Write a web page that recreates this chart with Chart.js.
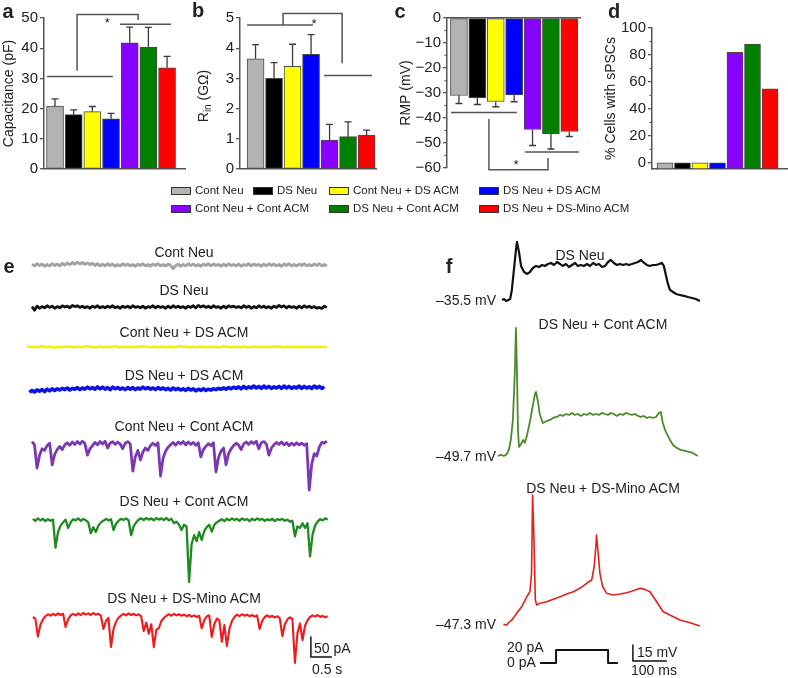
<!DOCTYPE html>
<html>
<head>
<meta charset="utf-8">
<script src="https://cdn.jsdelivr.net/npm/chart.js@4.4.1/dist/chart.umd.min.js"></script>
<style>
  body { margin: 0; width: 788px; height: 678px; position: relative; overflow: hidden; background: #fff;
         font-family: "Liberation Sans", Arial, sans-serif; color: #222; }
  canvas { position: absolute; }
  .lbl { position: absolute; white-space: nowrap; line-height: 1; }
  .key { position: absolute; width: 20px; height: 8px; border: 1px solid #333; box-sizing: border-box; }
</style>
</head>
<body>
<canvas id="chartA" style="left:0;top:0" width="190" height="180"></canvas>
<canvas id="chartB" style="left:186px;top:0" width="194" height="180"></canvas>
<canvas id="chartC" style="left:390px;top:0" width="200" height="180"></canvas>
<canvas id="chartD" style="left:595px;top:0" width="193" height="180"></canvas>
<canvas id="chartE" style="left:0;top:245px" width="345" height="433"></canvas>
<canvas id="chartF" style="left:440px;top:235px" width="348" height="443"></canvas>

<script>
// ==================== Data ====================
const groups = ['Cont Neu', 'DS Neu', 'Cont Neu + DS ACM', 'DS Neu + DS ACM',
                'Cont Neu + Cont ACM', 'DS Neu + Cont ACM', 'DS Neu + DS-Mino ACM'];

const capValues = [20.8, 18.0, 19.0, 16.6, 41.8, 40.4, 33.5];
const capErrors = [2.4, 1.6, 1.7, 1.8, 5.2, 6.5, 3.8];
const rinValues = [3.65, 3.0, 3.4, 3.8, 0.96, 1.07, 1.12];
const rinErrors = [0.47, 0.52, 0.73, 0.65, 0.52, 0.49, 0.17];
const rmpValues = [-31.0, -32.0, -33.4, -30.8, -44.6, -46.4, -45.4];
const rmpErrors = [3.2, 2.6, 2.1, 2.7, 6.4, 6.0, 2.0];
const spscValues = [0, 0, 0, 0, 82, 88, 55];

const capTicks = [0, 10, 20, 30, 40, 50];
const rinTicks = [0, 1, 2, 3, 4, 5];
const rmpTicks = [0, -10, -20, -30, -40, -50, -60];
const rmpMinorTicks = [-5, -15, -25, -35, -45, -55];
const spscTicks = [0, 20, 40, 60, 80, 100];
const spscMinorTicks = [10, 30, 50, 70, 90];

// spontaneous currents (pA, relative to holding), one sample every 0.06 s
const SWEEP_DT = 0.06;
const sweepContNeu = [2,-2,3,-1,2,-3,1,-2,3,-1, 2,-2,4,0,5,1,6,2,7,3, 6,2,5,1,4,-1,3,-2,2,-2,
  3,-1,2,-3,1,-2,3,-1,2,-2, 1,-3,2,-1,3,-2,1,-3,2,-1, 3,-2,1,-2,2,-1,-9,-2,2,-3,
  1,-2,3,-1,2,-2,1,-3,2,-1, 3,-2,2,-1,1,-3,2,-2,3,-1, 1,-2,2,-3,1,-1,3,-2,2,-1,
  1,-3,2,-2,3,-1,2,-2,1,-3, 2,-1,3,-2,1,-2,2,-1,3,-2, 1,-2,2,-1,3,-2,1,-2];
const sweepDsNeu = [1,-8,2,-3,1,-2,3,-1,2,-3, 1,-2,3,0,2,-2,4,1,3,-1, 2,-2,1,-3,2,-1,3,-2,1,-2,
  2,-1,3,-2,1,-3,2,-1,2,-2, 3,-1,1,-2,2,-3,1,-1,3,-2, 2,-1,1,-3,2,-2,3,-1,2,-2,
  1,-3,2,-1,3,-2,4,0,3,-1, 2,-2,3,-1,1,-3,2,-2,3,0, 2,-1,1,-2,3,-1,2,-3,1,-2,
  3,-1,2,-2,1,-3,2,-1,4,0, 3,-2,2,-1,1,-3,2,-2,3,-1, 2,-2,1,-3,-1,-4,2,-1];
const sweepContDsAcm = [0,1,-1,0,1,-1,2,0,-1,1, 0,-2,1,0,-1,1,0,1,-1,0, 1,0,-1,1,2,0,1,-1,0,1,
  -1,0,1,-1,0,2,0,-1,1,0, -1,1,0,-1,1,0,2,1,0,-1, 1,0,-1,1,0,-1,0,1,-1,0,
  1,2,0,1,-1,0,1,-1,0,1, 0,-1,1,0,-1,1,0,-1,2,0, 1,-1,0,1,0,-1,1,0,-1,1,
  0,1,-1,0,1,0,-1,1,0,2, 0,1,-1,0,1,-1,0,1,0,-1, 1,0,-1,1,0,-1,1,0,1,-1];
const sweepDsDsAcm = [-6,-1,-5,0,-3,1,-4,2,-2,3, -1,3,0,4,1,5,0,4,2,6, 1,5,2,7,3,6,2,8,3,7,
  2,6,1,7,3,6,2,5,1,6, 2,6,1,5,2,7,3,6,2,5, 1,6,2,5,1,4,0,5,1,4,
  0,3,-1,4,0,3,-2,2,-1,3, -1,2,0,3,1,4,2,5,2,6, 3,7,4,8,3,9,4,8,5,10,
  5,9,4,10,5,9,4,8,5,9, 4,10,5,9,4,8,5,10,4,9, 5,8,4,10,5,9,4,8];
const sweepContContAcm = [6,-2,-60,-28,-12,-16,-4,2,-52,-26, -14,-6,-14,-2,3,-3,5,-1,6,0,
  7,1,-28,-12,-4,4,-2,6,0,7, -10,2,6,-1,5,0,-12,2,6,0, -68,-32,-16,-40,-20,-10,-16,-4,2,-4,
  3,-80,-36,-18,-8,-2,4,-3,5,0, 6,-2,5,-1,4,-3,3,-32,-14,-6, 1,-4,3,-70,-34,-18,-10,-52,-24,-12,
  -4,2,-3,-14,0,5,-1,6,1,7, -12,3,6,0,-28,-10,-2,4,-1,5, -2,3,-4,2,-3,3,-2,2,-3,1,
  -115,-50,-24,-30,-8,4,2,7];
const sweepDsContAcm = [3,-2,4,-1,3,-3,2,-2,1,-69, -30,-14,-6,1,-20,-6,2,-1,4,-2,
  3,-1,-6,-33,-18,-30,-14,-6,-2,3, -1,2,-25,-10,-2,3,0,4,-1,-38, -16,-6,1,4,0,5,1,4,-1,5,
  1,4,0,5,-1,3,-8,-4,-12,-25, -12,-16,-155,-60,-38,-53,-30,-50,-28,-18, -12,-29,-12,-6,-2,2,-3,3,-1,4,
  0,3,-2,4,0,2,-3,3,-1,4, 0,3,-2,2,-1,3,-3,2,0,3, -2,1,-4,-2,-41,-16,-20,-8,-20,-8,
  -91,-36,-14,-4,2,-1,4,1];
const sweepDsMinoAcm = [0,-4,-49,-20,-6,2,7,3,8,4, 9,5,8,-25,-6,4,8,4,9,5,
  10,6,9,5,10,6,8,3,-30,-10, -2,-75,-30,-12,-2,4,8,4,9,5, 8,4,7,2,-35,-14,-42,-18,-75,-32,
  -28,-10,-2,3,7,3,8,4,7,3, 6,2,5,1,4,0,3,-28,-8,2, 4,-50,-18,-4,-8,-62,-20,-73,-30,-10,
  0,6,2,7,3,6,2,5,1,4, -30,-10,0,4,0,3,-1,2,-4,-48, -18,-6,-1,-5,-115,-40,-16,-58,-22,-8,
  0,4,1,5,0,3,-1,2];
const eScaleSeconds = 0.5;
const eScalePicoamps = 50;

// current-clamp responses: time (ms) and membrane potential (mV)
const stepDsNeuT = [0,6,12,18,24,29,35,41,44,50,56,65,74,82,91,100,109,118,126,135,144,153,162,171,179,188,
  197,206,215,223,232,241,250,259,268,276,285,294,303,312,320,329,338,347,356,365,373,382,391,400,409,418,
  426,435,444,453,462,470,476,482,488,494,503,512,523,535,547,559,570,582];
const stepDsNeuV = [-35.5,-34.6,-36.4,-35.5,-34.6,-26.1,-7.4,11.4,18.9,9.5,-3.6,-9.3,-11.1,-9.3,-5.5,-3.6,
  -4.6,-2.7,-3.6,-1.8,-0.8,-2.7,0.1,-1.8,-3.6,-1.8,-4.6,-2.7,-0.8,-3.6,-2.7,-3.6,-1.8,-3.6,-0.8,-2.7,-1.8,
  -4.6,-3.6,0.1,2.0,-0.8,-2.7,-1.8,-2.7,-1.8,-2.7,-1.8,-0.8,0.1,2.0,-0.8,-2.7,-3.6,-2.7,-2.7,-1.8,-0.8,
  -3.6,-12.0,-20.5,-26.1,-28.0,-29.9,-30.8,-31.7,-32.7,-33.6,-34.6,-36.4];
const stepDsContAcmT = [-12,-3,6,14,20,26,32,38,41,44,47,50,56,62,67,73,82,91,97,100,106,111,120,132,141,150,
  161,170,179,188,197,206,214,223,232,241,250,259,267,276,285,294,303,312,320,329,338,347,356,364,373,382,
  391,400,408,417,426,435,444,453,461,467,473,482,494,503,514,526,538,550,561,576];
const stepDsContAcmV = [-50.6,-49.7,-50.6,-48.8,-45.0,-35.6,-16.9,30.0,69.4,30.0,-26.3,-42.2,-39.4,-35.6,
  -38.4,-31.9,-18.8,-2.8,7.5,9.4,0.0,-11.3,-19.7,-17.8,-16.9,-15.0,-14.1,-12.2,-13.1,-11.3,-12.2,-10.3,
  -12.2,-11.3,-13.1,-11.3,-12.2,-10.3,-12.2,-11.3,-12.2,-10.3,-11.3,-12.2,-10.3,-11.3,-13.1,-11.3,-12.2,
  -10.3,-11.3,-12.2,-11.3,-13.1,-14.1,-13.1,-15.0,-14.1,-15.0,-14.1,-10.3,-9.4,-19.7,-28.1,-35.6,-40.3,
  -43.1,-45.0,-45.9,-46.9,-47.8,-50.6];
const stepDsMinoAcmT = [4,14,19,29,43,58,73,82,87,90,94,98,102,112,131,151,171,190,210,229,249,264,271,276,278,
  282,288,296,308,327,347,367,386,406,420,435,455,474,494,523,553,582];
const stepDsMinoAcmV = [-47.6,-48.2,-46.1,-43.5,-37.3,-31.1,-21.7,-17.0,0.5,73.6,31.5,-24.8,-29.5,-27.9,
  -26.4,-24.1,-21.7,-19.2,-17.0,-13.8,-9.1,-6.0,6.4,25.2,36.1,22.1,0.2,-12.3,-18.5,-20.1,-19.2,-18.0,-16.1,
  -13.8,-14.8,-17.0,-26.4,-35.8,-38.9,-43.6,-46.1,-49.2];
const stimTimes = [112, 159, 159, 312, 312, 341];
const stimCurrent = [0, 0, 20, 20, 0, 0];
const fScaleMs = 100;
const fScaleMv = 15;

// ==================== Styles / layout ====================
const FONT = '"Liberation Sans", Arial, sans-serif';
const barColors = ['#b3b3b3', '#000000', '#ffff00', '#0000ff', '#8800ff', '#007f00', '#ff0000'];
const AXIS = '#555';

// bracket paths and stars in data units (x = group index)
const extras = {
  chartA: { values: capValues, errors: capErrors,
    brackets: [[[-0.43, 30.6], [3.1, 30.6]], [[1.18, 32.5], [1.18, 51.2], [4.45, 51.2], [4.45, 49.3]],
               [[3.48, 47.9], [6.21, 47.9]]],
    star: [2.8, 49.2] },
  chartB: { values: rinValues, errors: rinErrors,
    brackets: [[[-0.46, 4.77], [3.1, 4.77]], [[1.49, 4.77], [1.49, 5.15], [4.68, 5.15], [4.68, 3.5]],
               [[3.7, 3.1], [6.3, 3.1]]],
    star: [3.16, 4.9], rinTitle: [17, 96] },
  chartC: { values: rmpValues, errors: rmpErrors, minor: rmpMinorTicks,
    brackets: [[[-0.43, -37.8], [3.15, -37.8]], [[1.63, -40.4], [1.63, -60.7], [4.84, -60.7], [4.84, -56]],
               [[3.59, -53.6], [6.52, -53.6]]],
    star: [3.1, -57.8] },
  chartD: { values: spscValues, errors: [], minor: spscMinorTicks, brackets: [] }
};

// ==================== Plugins ====================
const panelExtras = {
  id: 'panelExtras',
  afterDraw(chart) {
    const ex = extras[chart.canvas.id];
    if (!ex) return;
    const ctx = chart.ctx;
    const xs = chart.scales.x, ys = chart.scales.y;
    const meta = chart.getDatasetMeta(0);
    ctx.save();

    // error bars (one sided, away from zero)
    ctx.strokeStyle = '#3a3a3a';
    ctx.lineWidth = 1.3;
    ex.errors.forEach((err, i) => {
      const v = ex.values[i];
      const bx = meta.data[i].x;
      const yEnd = ys.getPixelForValue(v < 0 ? v - err : v + err);
      ctx.beginPath();
      ctx.moveTo(bx, ys.getPixelForValue(v));
      ctx.lineTo(bx, yEnd);
      ctx.moveTo(bx - 3.5, yEnd);
      ctx.lineTo(bx + 3.5, yEnd);
      ctx.stroke();
    });

    // significance brackets
    ctx.strokeStyle = AXIS;
    ctx.lineWidth = 1.5;
    ex.brackets.forEach(path => {
      ctx.beginPath();
      path.forEach((p, k) => {
        const px = xs.getPixelForValue(p[0]), py = ys.getPixelForValue(p[1]);
        if (k) ctx.lineTo(px, py); else ctx.moveTo(px, py);
      });
      ctx.stroke();
    });
    if (ex.star) {
      ctx.fillStyle = '#222';
      ctx.font = '13px ' + FONT;
      ctx.textAlign = 'center';
      ctx.textBaseline = 'middle';
      ctx.fillText('*', xs.getPixelForValue(ex.star[0]), ys.getPixelForValue(ex.star[1]) + 3);
    }

    // minor ticks
    if (ex.minor) {
      ctx.strokeStyle = AXIS;
      ctx.lineWidth = 1.2;
      const left = chart.chartArea.left;
      ex.minor.forEach(v => {
        const py = ys.getPixelForValue(v);
        ctx.beginPath();
        ctx.moveTo(left, py);
        ctx.lineTo(left - 2.5, py);
        ctx.stroke();
      });
    }

    // R_in title with subscript
    if (ex.rinTitle) {
      ctx.translate(ex.rinTitle[0], ex.rinTitle[1]);
      ctx.rotate(-Math.PI / 2);
      ctx.fillStyle = '#222';
      ctx.textBaseline = 'alphabetic';
      ctx.textAlign = 'left';
      ctx.font = '14px ' + FONT;
      const w1 = ctx.measureText('R').width;
      const w3 = ctx.measureText(' (G\u03a9)').width;
      ctx.font = '10px ' + FONT;
      const w2 = ctx.measureText('in').width;
      let x0 = -(w1 + w2 + w3) / 2;
      ctx.font = '14px ' + FONT;
      ctx.fillText('R', x0, 5);
      ctx.font = '10px ' + FONT;
      ctx.fillText('in', x0 + w1, 8);
      ctx.font = '14px ' + FONT;
      ctx.fillText(' (G\u03a9)', x0 + w1 + w2, 5);
    }
    ctx.restore();
  }
};

// ==================== Bar panels ====================
function makeBarChart(id, values, cfg) {
  new Chart(document.getElementById(id), {
    type: 'bar',
    data: {
      labels: groups,
      datasets: [{
        data: values.map((v, i) => ({ x: i, y: v })),
        backgroundColor: barColors,
        borderColor: '#4a4a4a',
        borderWidth: 1,
        borderSkipped: false,
        barThickness: cfg.barWidth,
        base: cfg.base
      }]
    },
    options: {
      responsive: false,
      animation: false,
      events: [],
      layout: { padding: cfg.padding },
      plugins: { legend: { display: false }, tooltip: { enabled: false } },
      scales: {
        x: {
          type: 'linear', position: cfg.xPosition || 'bottom',
          min: cfg.xMin, max: cfg.xMax, offset: false,
          ticks: { display: false },
          grid: { display: false, drawTicks: false },
          border: { display: true, color: AXIS, width: 1.5 }
        },
        y: {
          min: cfg.yMin, max: cfg.yMax,
          afterFit(scale) { scale.width = cfg.axisWidth; },
          afterBuildTicks(scale) { scale.ticks = cfg.ticks.map(v => ({ value: v })); },
          ticks: {
            font: { size: 15, family: FONT }, color: '#222', padding: 2,
            callback: v => String(v).replace('-', '\u2212')
          },
          grid: { display: true, drawOnChartArea: false, drawTicks: true, tickLength: 4, color: AXIS, lineWidth: 1.3 },
          border: { display: true, color: AXIS, width: 1.5 },
          title: {
            display: !!cfg.title, text: cfg.title, color: '#222',
            font: { size: 14, family: FONT }, padding: { top: cfg.titlePad || 0, bottom: 0 }
          }
        }
      }
    },
    plugins: [panelExtras]
  });
}

makeBarChart('chartA', capValues, {
  padding: { top: 18, right: 5, bottom: 10, left: 0 }, axisWidth: 44,
  xMin: -0.59, xMax: 6.96, yMin: 0, yMax: 50, ticks: capTicks, barWidth: 17,
  title: 'Capacitance (pF)', titlePad: 1
});
makeBarChart('chartB', rinValues, {
  padding: { top: 18, right: 4, bottom: 10, left: 0 }, axisWidth: 54,
  xMin: -0.84, xMax: 6.51, yMin: 0, yMax: 5, ticks: rinTicks, barWidth: 17
});
makeBarChart('chartC', rmpValues, {
  padding: { top: 18, right: 10, bottom: 12, left: 0 }, axisWidth: 57, xPosition: 'top',
  xMin: -0.65, xMax: 6.58, yMin: -60, yMax: 0, ticks: rmpTicks, barWidth: 17,
  title: 'RMP (mV)', titlePad: 8
});
makeBarChart('chartD', spscValues, {
  padding: { top: 28, right: 1, bottom: 10, left: 0 }, axisWidth: 57,
  xMin: -0.74, xMax: 6.97, yMin: -4.5, yMax: 100, ticks: spscTicks, barWidth: 16, base: -4.5,
  title: '% Cells with sPSCs', titlePad: 8
});

// ==================== Trace panels ====================
function sweep(values, start, offset) {
  return values.map((v, i) => ({ x: start + i * SWEEP_DT, y: offset + v }));
}
function pairs(times, values, offset) {
  return times.map((t, i) => ({ x: t, y: values[i] + offset }));
}
function line(data, color, width) {
  return { data, borderColor: color, borderWidth: width, pointRadius: 0, tension: 0, fill: false,
           borderJoinStyle: 'round', borderCapStyle: 'butt' };
}
function traceChart(id, datasets, xMin, xMax, yMax) {
  new Chart(document.getElementById(id), {
    type: 'line',
    data: { datasets },
    options: {
      responsive: false, animation: false, events: [],
      layout: { padding: 0 },
      plugins: { legend: { display: false }, tooltip: { enabled: false } },
      scales: {
        x: { type: 'linear', display: false, min: xMin, max: xMax },
        y: { type: 'linear', display: false, min: 0, max: yMax }
      }
    }
  });
}

// panel e: y in pA (2.5 pA per pixel), traces stacked by offset
traceChart('chartE', [
  line(sweep(sweepContNeu, 0, 1032.5), '#a3a3a3', 3),
  line(sweep(sweepDsNeu, 0, 927.5), '#111111', 2.8),
  line(sweep(sweepContDsAcm, -0.12, 827.5), '#f4ef00', 2.4),
  line(sweep(sweepDsDsAcm, -0.06, 720), '#0a14e6', 3.6),
  line(sweep(sweepContContAcm, 0, 585), '#7a38b3', 2.8),
  line(sweep(sweepDsContAcm, 0.02, 395), '#1f8a1f', 2.3),
  line(sweep(sweepDsMinoAcm, 0.02, 152.5), '#f01a1a', 2.1),
  line([{ x: 6.64, y: 52.5 + eScalePicoamps }, { x: 6.64, y: 52.5 }, { x: 6.64 + eScaleSeconds, y: 52.5 }], '#111', 1.5)
], -0.762, 7.452, 1082.5);

// panel f: y in mV (0.9375 mV per pixel), traces offset to their resting potentials
traceChart('chartF', [
  line(pairs(stepDsNeuT, stepDsNeuV, 35.5 + 354.4), '#111111', 2.2),
  line(pairs(stepDsContAcmT, stepDsContAcmV, 49.7 + 209.1), '#4d8b2a', 1.8),
  line(pairs(stepDsMinoAcmT, stepDsMinoAcmV, 47.3 + 50.6), '#e3211c', 1.6),
  line(stimTimes.map((t, i) => ({ x: t, y: 14.1 + stimCurrent[i] * 0.61 })), '#111', 2),
  line([{ x: 385, y: 15.9 + fScaleMv }, { x: 385, y: 15.9 }, { x: 385 + fScaleMs, y: 15.9 }], '#111', 1.5)
], -182.35, 841.18, 415.3125);

// ==================== Text ====================
function addText(text, x, y, size, align, bold) {
  const el = document.createElement('div');
  el.className = 'lbl';
  el.textContent = text;
  el.style.left = x + 'px';
  el.style.top = y + 'px';
  el.style.fontSize = size + 'px';
  if (bold) el.style.fontWeight = 'bold';
  const tx = align === 'center' ? '-50%' : align === 'right' ? '-100%' : '0';
  el.style.transform = `translate(${tx}, -50%)`;
  document.body.appendChild(el);
}

[['a', 8, 11.3], ['b', 198, 10], ['c', 400, 10.5], ['d', 614, 11], ['e', 9, 265.5], ['f', 449, 266]]
  .forEach(p => addText(p[0], p[1], p[2], 20, 'center', true));

// legend
const legendSpots = [[171, 190.5], [253, 190.5], [329, 190.5], [479, 190.5], [171, 208.7], [329, 208.7], [479, 208.7]];
groups.forEach((g, i) => {
  const [x, y] = legendSpots[i];
  const key = document.createElement('div');
  key.className = 'key';
  key.style.left = x + 'px';
  key.style.top = (y - 4) + 'px';
  key.style.background = barColors[i];
  document.body.appendChild(key);
  addText(g, x + 24, y, 11.5, 'left');
});

// trace titles
[[0, 252], [1, 290], [2, 332], [3, 375], [4, 426], [5, 501], [6, 598]]
  .forEach(p => addText(groups[p[0]], 184, p[1], 14, 'center'));
addText(groups[1], 580, 255, 14, 'center');
addText(groups[5], 603, 324, 14, 'center');
addText(groups[6], 603, 488, 14, 'center');
addText('\u201335.5 mV', 496, 300, 14, 'right');
addText('\u201349.7 mV', 496, 456, 14, 'right');
addText('\u201347.3 mV', 496, 624, 14, 'right');
addText(eScalePicoamps + ' pA', 314, 648, 14, 'left');
addText(eScaleSeconds + ' s', 312, 669, 14, 'left');
addText('20 pA', 507, 647, 14, 'left');
addText('0 pA', 507, 662, 14, 'left');
addText(fScaleMv + ' mV', 637, 652, 14, 'left');
addText(fScaleMs + ' ms', 631, 670, 14, 'left');
</script>
</body>
</html>
